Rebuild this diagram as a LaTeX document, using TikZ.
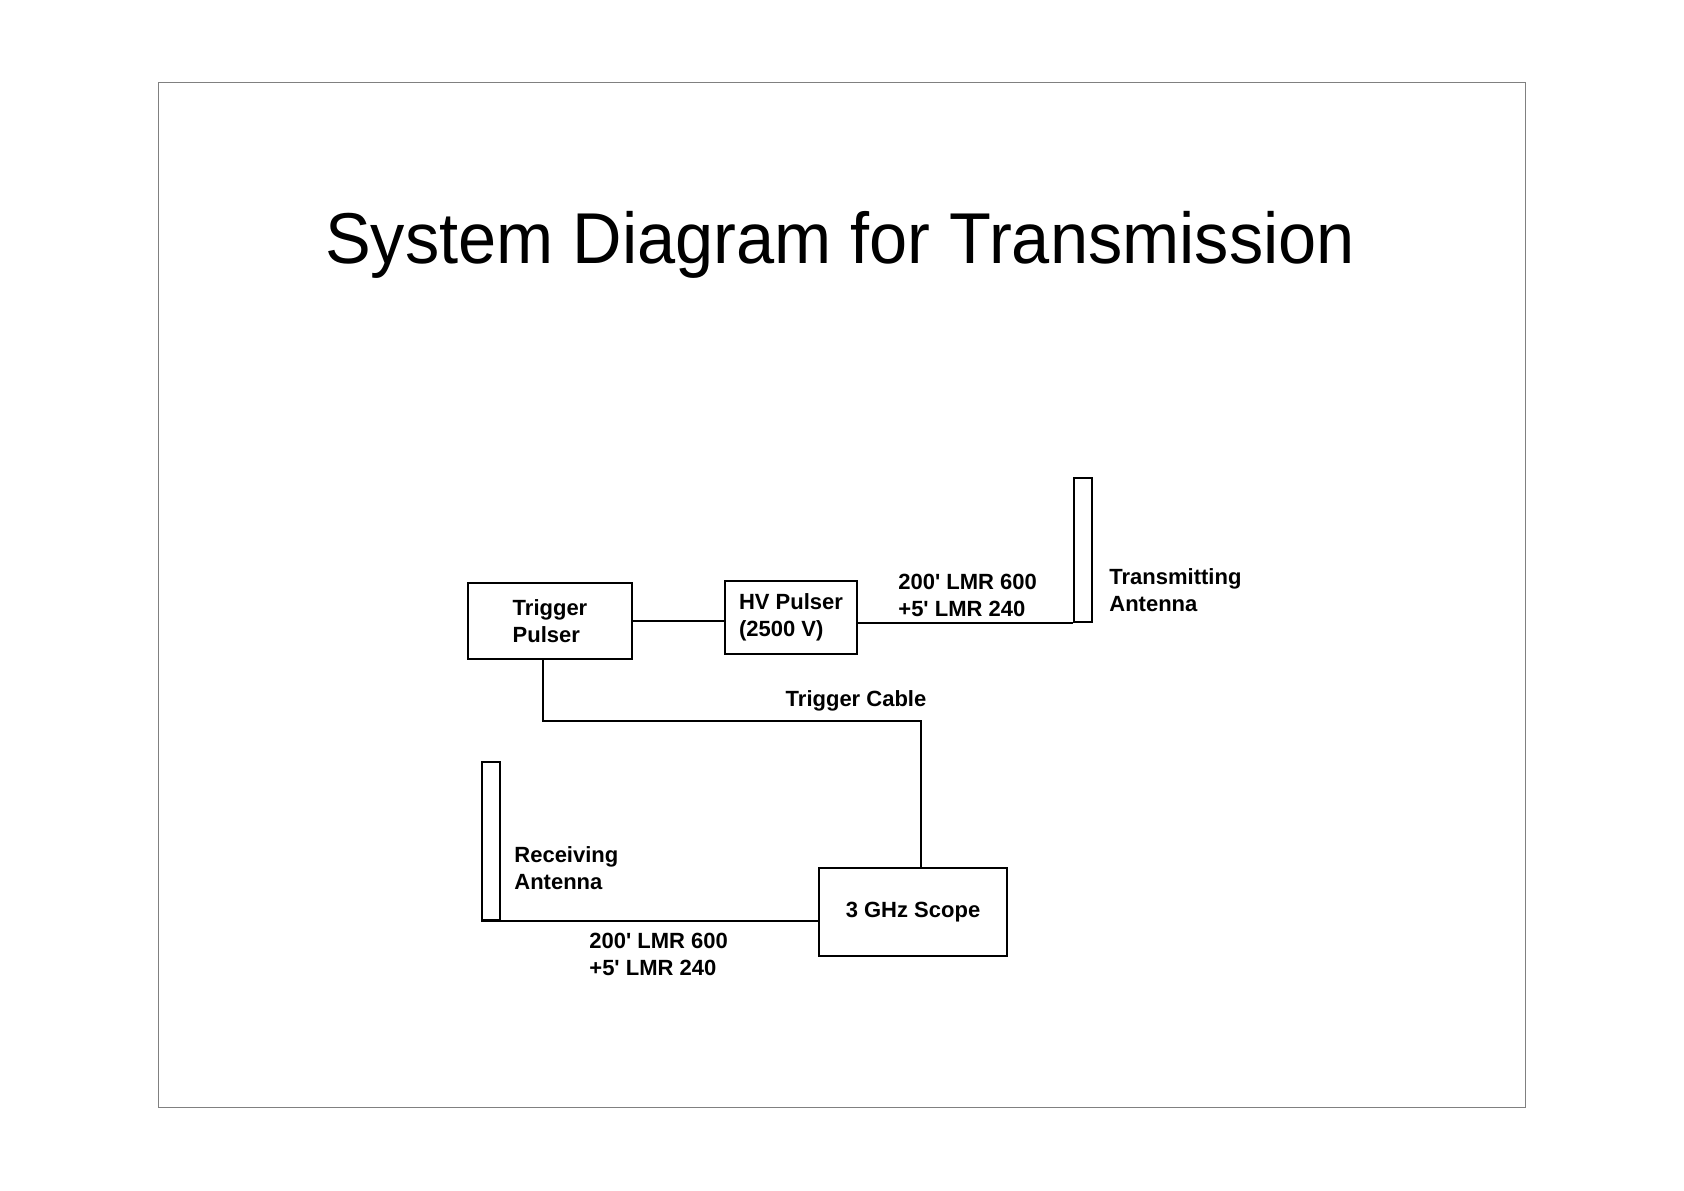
\documentclass[tikz,border=0pt]{standalone}
\usepackage{fontspec}
\usepackage{graphicx}
\setmainfont{Liberation Sans}
\usetikzlibrary{positioning}

\tikzset{
  box/.style={draw,line width=0.8pt,rectangle,inner sep=0pt,font=\lbfont},
  ant/.style={draw,line width=0.8pt,rectangle,inner sep=0pt,minimum width=9pt},
  lbl/.style={inner sep=0pt,align=left,font=\lbfont},
  cable/.style={line width=0.8pt}
}
\newcommand{\lbfont}{\fontsize{11}{13.5}\selectfont\bfseries}
\newcommand{\tq}{\textquotesingle}

\begin{document}
\begin{tikzpicture}[x=0.5pt,y=-0.5pt]
	\useasboundingbox (0,0) rectangle (1684,1190);
	\draw[gray,line width=0.5pt] (158,82) rectangle (1525,1107);
	\node[anchor=base,inner sep=0pt,font=\fontsize{36}{40}\selectfont] (title) at (840,263) {\scalebox{0.952}[1]{System Diagram for Transmission}};
	% boxes
	\node[box,minimum width=82pt,minimum height=38pt,align=left] (trig) at (550,621) {Trigger\\Pulser};
	\node[box,minimum width=66pt,minimum height=36.5pt,align=left] (hv) at (791,617.5) {HV Pulser\\(2500 V)};
	\node[box,minimum width=94pt,minimum height=44pt] (scope) at (913,912) {3 GHz Scope};
	% antennas
	\node[ant,minimum height=72pt] (tx) at (1083,550) {};
	\node[ant,minimum height=79pt] (rx) at (491,841) {};
	% labels
	\node[lbl,anchor=west] (txlbl) at (1109,590.5) {Transmitting\\Antenna};
	\node[lbl,anchor=west] (rxlbl) at (514,868.5) {Receiving\\Antenna};
	\node[lbl,anchor=west] (txcab) at (898,595.5) {200\tq\ LMR 600\\+5\tq\ LMR 240};
	\node[lbl,anchor=west] (rxcab) at (589,954.5) {200\tq\ LMR 600\\+5\tq\ LMR 240};
	\node[lbl] (trcab) at (856,701) {Trigger Cable};
	% cables
	\coordinate (bend) at (921,721);
	\draw[cable] (trig.east) -- (trig.east -| hv.west);
	\draw[cable] (tx.south west) -- (tx.south west -| hv.east);
	\draw[cable] ([xshift=-3.5pt]trig.south) |- (bend) -- (bend |- scope.north);
	\draw[cable] (rx.south west) -- (rx.south west -| scope.west);
\end{tikzpicture}
\end{document}
